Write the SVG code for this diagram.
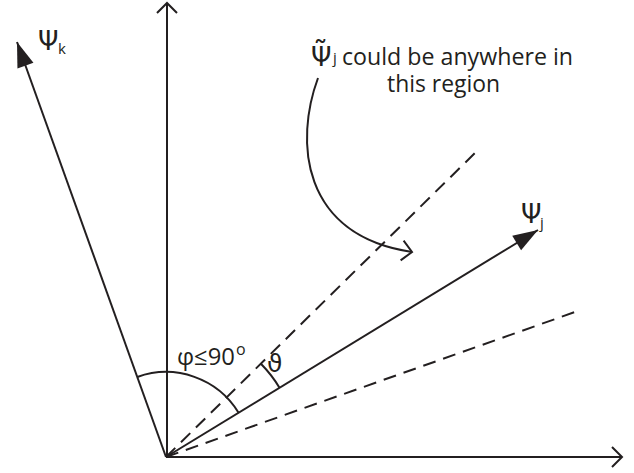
<svg xmlns="http://www.w3.org/2000/svg" width="634" height="473" viewBox="0 0 634 473">
<style>
.ln{stroke:#231f20;stroke-width:2;fill:none}
.dash{stroke:#231f20;stroke-width:2;fill:none;stroke-dasharray:13 8}
.t{font-family:"Open Sans","Lato","DejaVu Sans",sans-serif;fill:#231f20}
.g{font-family:"DejaVu Sans","Open Sans",sans-serif;fill:#231f20}
</style>
<defs>
<marker id="tri" markerUnits="userSpaceOnUse" markerWidth="30" markerHeight="20" viewBox="-26 -10 30 20" refX="0" refY="0" orient="auto">
<path d="M0,0 L-25,-8.5 L-25,8.5 Z" fill="#231f20"/>
</marker>
<marker id="chev" markerUnits="userSpaceOnUse" markerWidth="20" markerHeight="24" viewBox="-14 -12 16 24" refX="0" refY="0" orient="auto">
<path d="M-10,-10 L0,0 L-10,10" fill="none" stroke="#231f20" stroke-width="2"/>
</marker>
</defs>
<g id="connectors">
<line id="y-axis" class="ln" x1="167" y1="457" x2="167" y2="3" marker-end="url(#chev)"/>
<line id="x-axis" class="ln" x1="166" y1="457" x2="622" y2="457" marker-end="url(#chev)"/>
<line id="psi-k" class="ln" x1="166" y1="457" x2="17" y2="42" marker-end="url(#tri)"/>
<line id="psi-j" class="ln" x1="166" y1="457" x2="538" y2="230" marker-end="url(#tri)"/>
<line id="upper-bound" class="dash" x1="166" y1="457" x2="476" y2="152"/>
<line id="lower-bound" class="dash" x1="166" y1="457" x2="575" y2="312"/>
<path id="phi-arc" class="ln" d="M137.3,377 A85,85 0 0,1 238.6,412.7"/>
<path id="theta-arc" class="ln" d="M279.5,387.7 A133,133 0 0,0 260.9,363.8"/>
<path id="pointer" class="ln" d="M318,78 C295,140 300,235 412,252" marker-end="url(#chev)"/>
</g>
<g id="label-psi-k">
<text class="g" x="38" y="50" font-size="26">Ψ<tspan class="t" x="58" y="54" font-size="15">k</tspan></text>
</g>
<g id="label-psi-j">
<text class="g" x="521" y="223" font-size="26">Ψ<tspan class="t" x="540" y="228" font-size="15">j</tspan></text>
</g>
<g id="label-region">
<text class="g" x="311" y="66" font-size="26">Ψ<tspan x="313" y="62" font-size="30">˜</tspan><tspan class="t" x="333" y="63" font-size="15">j</tspan><tspan class="t" x="342" y="65" font-size="23" textLength="231" lengthAdjust="spacingAndGlyphs">could be anywhere in</tspan><tspan class="t" x="387" y="92" font-size="23" textLength="113" lengthAdjust="spacingAndGlyphs">this region</tspan></text>
</g>
<g id="label-phi">
<text class="t" x="177" y="365" font-size="24"><tspan textLength="58" lengthAdjust="spacingAndGlyphs">φ≤90</tspan><tspan x="236" y="355" font-size="16">o</tspan></text>
</g>
<g id="label-theta">
<text class="g" x="267" y="372" font-size="25">ϑ</text>
</g>
</svg>
